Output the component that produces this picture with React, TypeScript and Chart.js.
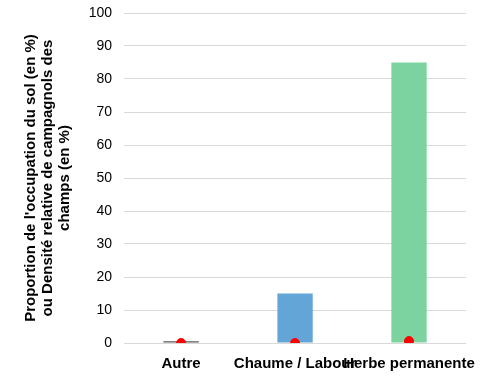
import React, { useEffect, useRef } from "react";
import { Chart, registerables } from "chart.js";

Chart.register(...registerables);

const categories = ["Autre", "Chaume / Labour", "Herbe permanente"];
const occupation = [0.5, 15, 85];
const densite = [0, 0, 0.6];
const barColors = ["#595959", "#64a5d8", "#7dd3a0"];
const yTitle = [
  "Proportion de l'occupation du sol (en %)",
  "ou Densité relative de campagnols des",
  "champs (en %)",
];

export default function App() {
  const ref = useRef<HTMLCanvasElement>(null);
  useEffect(() => {
    if (!ref.current) return;
    const font = "'Liberation Sans', Arial, sans-serif";
    const chart = new Chart(ref.current, {
      type: "bar",
      data: {
        labels: categories,
        datasets: [
          {
            type: "line",
            label: "Densité",
            data: densite,
            showLine: false,
            pointRadius: 4.5,
            pointHoverRadius: 4.5,
            pointBackgroundColor: "#ff0000",
            pointBorderColor: "#ff0000",
            borderColor: "#ff0000",
            order: 0,
          },
          {
            type: "bar",
            label: "Occupation",
            data: occupation,
            backgroundColor: barColors,
            barPercentage: 0.31,
            categoryPercentage: 1,
            order: 1,
          },
        ],
      },
      options: {
        animation: false,
        responsive: false,
        maintainAspectRatio: false,
        layout: { padding: { top: 13, right: 21, left: 22, bottom: -1 } },
        plugins: { legend: { display: false }, tooltip: { enabled: false } },
        scales: {
          x: {
            grid: { display: false },
            border: { display: false },
            ticks: {
              autoSkip: false,
              maxRotation: 0,
              minRotation: 0,
              color: "#000",
              font: { family: font, size: 15, weight: "bold" },
              padding: 4,
            },
          },
          y: {
            min: 0,
            max: 100,
            ticks: {
              stepSize: 10,
              color: "#000",
              font: { family: font, size: 14 },
              padding: 3,
            },
            grid: { color: "#d9d9d9", drawTicks: true, tickLength: 9, tickColor: "rgba(0,0,0,0)" },
            border: { display: false },
            title: {
              display: true,
              text: yTitle,
              color: "#000",
              font: { family: font, size: 15, weight: "bold", lineHeight: 1.15 },
              padding: { top: 0, bottom: 12 },
            },
          },
        },
      },
    });
    return () => chart.destroy();
  }, []);
  return (
    <div style={{ position: "fixed", left: 0, top: 0, width: 487, height: 376, background: "#fff" }}>
      <canvas ref={ref} width={487} height={376} />
    </div>
  );
}
